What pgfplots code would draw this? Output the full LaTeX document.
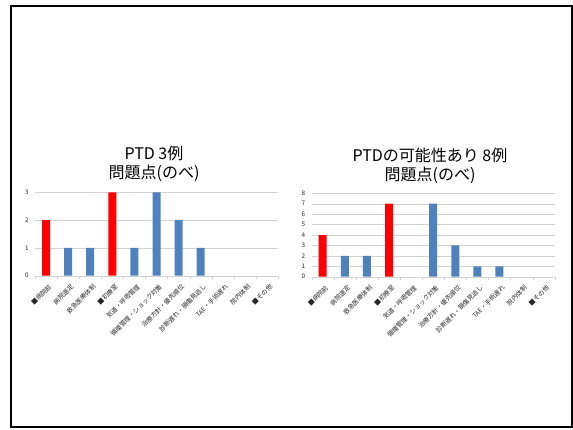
\documentclass[border=0pt]{standalone}
\usepackage{fontspec}
\setmainfont{Noto Sans CJK JP}
\usepackage{pgfplots}
\pgfplotsset{compat=1.18}
\definecolor{barblue}{RGB}{79,129,189}
\definecolor{barred}{RGB}{255,0,0}
\definecolor{gridgray}{RGB}{210,210,210}

\pgfplotsset{
  ptd/.style={
    scale only axis, width=243pt, height=83.4pt, anchor=south west,
    xmin=-0.5, xmax=10.5, ymin=0,
    ybar,
    axis x line*=bottom, axis y line*=left,
    x axis line style={draw=gridgray},
    y axis line style={draw=none},
    xtick={0,...,10},
    xticklabels={■病院前, 病院選定, 救急医療体制, ■初療室, 気道・呼吸管理,
      循環管理・ショック対策, 治療方針・優先順位, 診断遅れ・損傷見逃し,
      TAE・手術遅れ, 院内体制, ■その他},
    major x tick style={draw=none},
    minor xtick={-0.5,0.5,...,10.5},
    minor x tick style={gridgray},
    tick align=outside, minor tick length=3pt,
    ytick style={draw=none},
    ymajorgrids, grid style={gridgray},
    tick label style={font=\fontsize{6.3}{7}\selectfont, text=black!85},
    xticklabel style={rotate=45, anchor=north east, inner sep=1pt, yshift=-3pt},
    yticklabel style={inner sep=2pt},
    /pgf/number format/assume math mode=true,
  },
  redbar/.style={fill=barred, draw=none, bar width=8pt, bar shift=0pt},
  bluebar/.style={fill=barblue, draw=none, bar width=8pt, bar shift=0pt},
}

\begin{document}
\begin{tikzpicture}
\useasboundingbox (0,0) rectangle (573pt,429pt);
\fill[white] (0,0) rectangle (573pt,429pt);
\draw[line width=2pt] (11pt,423pt) rectangle (572pt,2pt);

\node[font=\fontsize{16}{18}\selectfont] at (154pt,275.7pt) {PTD 3例};
\node[font=\fontsize{16}{18}\selectfont] at (154pt,255.7pt) {問題点(のべ)};
\node[font=\fontsize{16}{18}\selectfont] at (430pt,274pt) {PTDの可能性あり 8例};
\node[font=\fontsize{16}{18}\selectfont] at (430pt,254pt) {問題点(のべ)};

\begin{axis}[ptd, at={(35pt,153.3pt)}, ymax=3, ytick={0,1,2,3}]
\addplot[redbar] coordinates {(0,2) (3,3)};
\addplot[bluebar] coordinates {(1,1) (2,1) (4,1) (5,3) (6,2) (7,1)};
\end{axis}

\begin{axis}[ptd, at={(311.7pt,152.3pt)}, ymax=8, ytick={0,1,...,8}]
\addplot[redbar] coordinates {(0,4) (3,7)};
\addplot[bluebar] coordinates {(1,2) (2,2) (5,7) (6,3) (7,1) (8,1)};
\end{axis}
\end{tikzpicture}
\end{document}
